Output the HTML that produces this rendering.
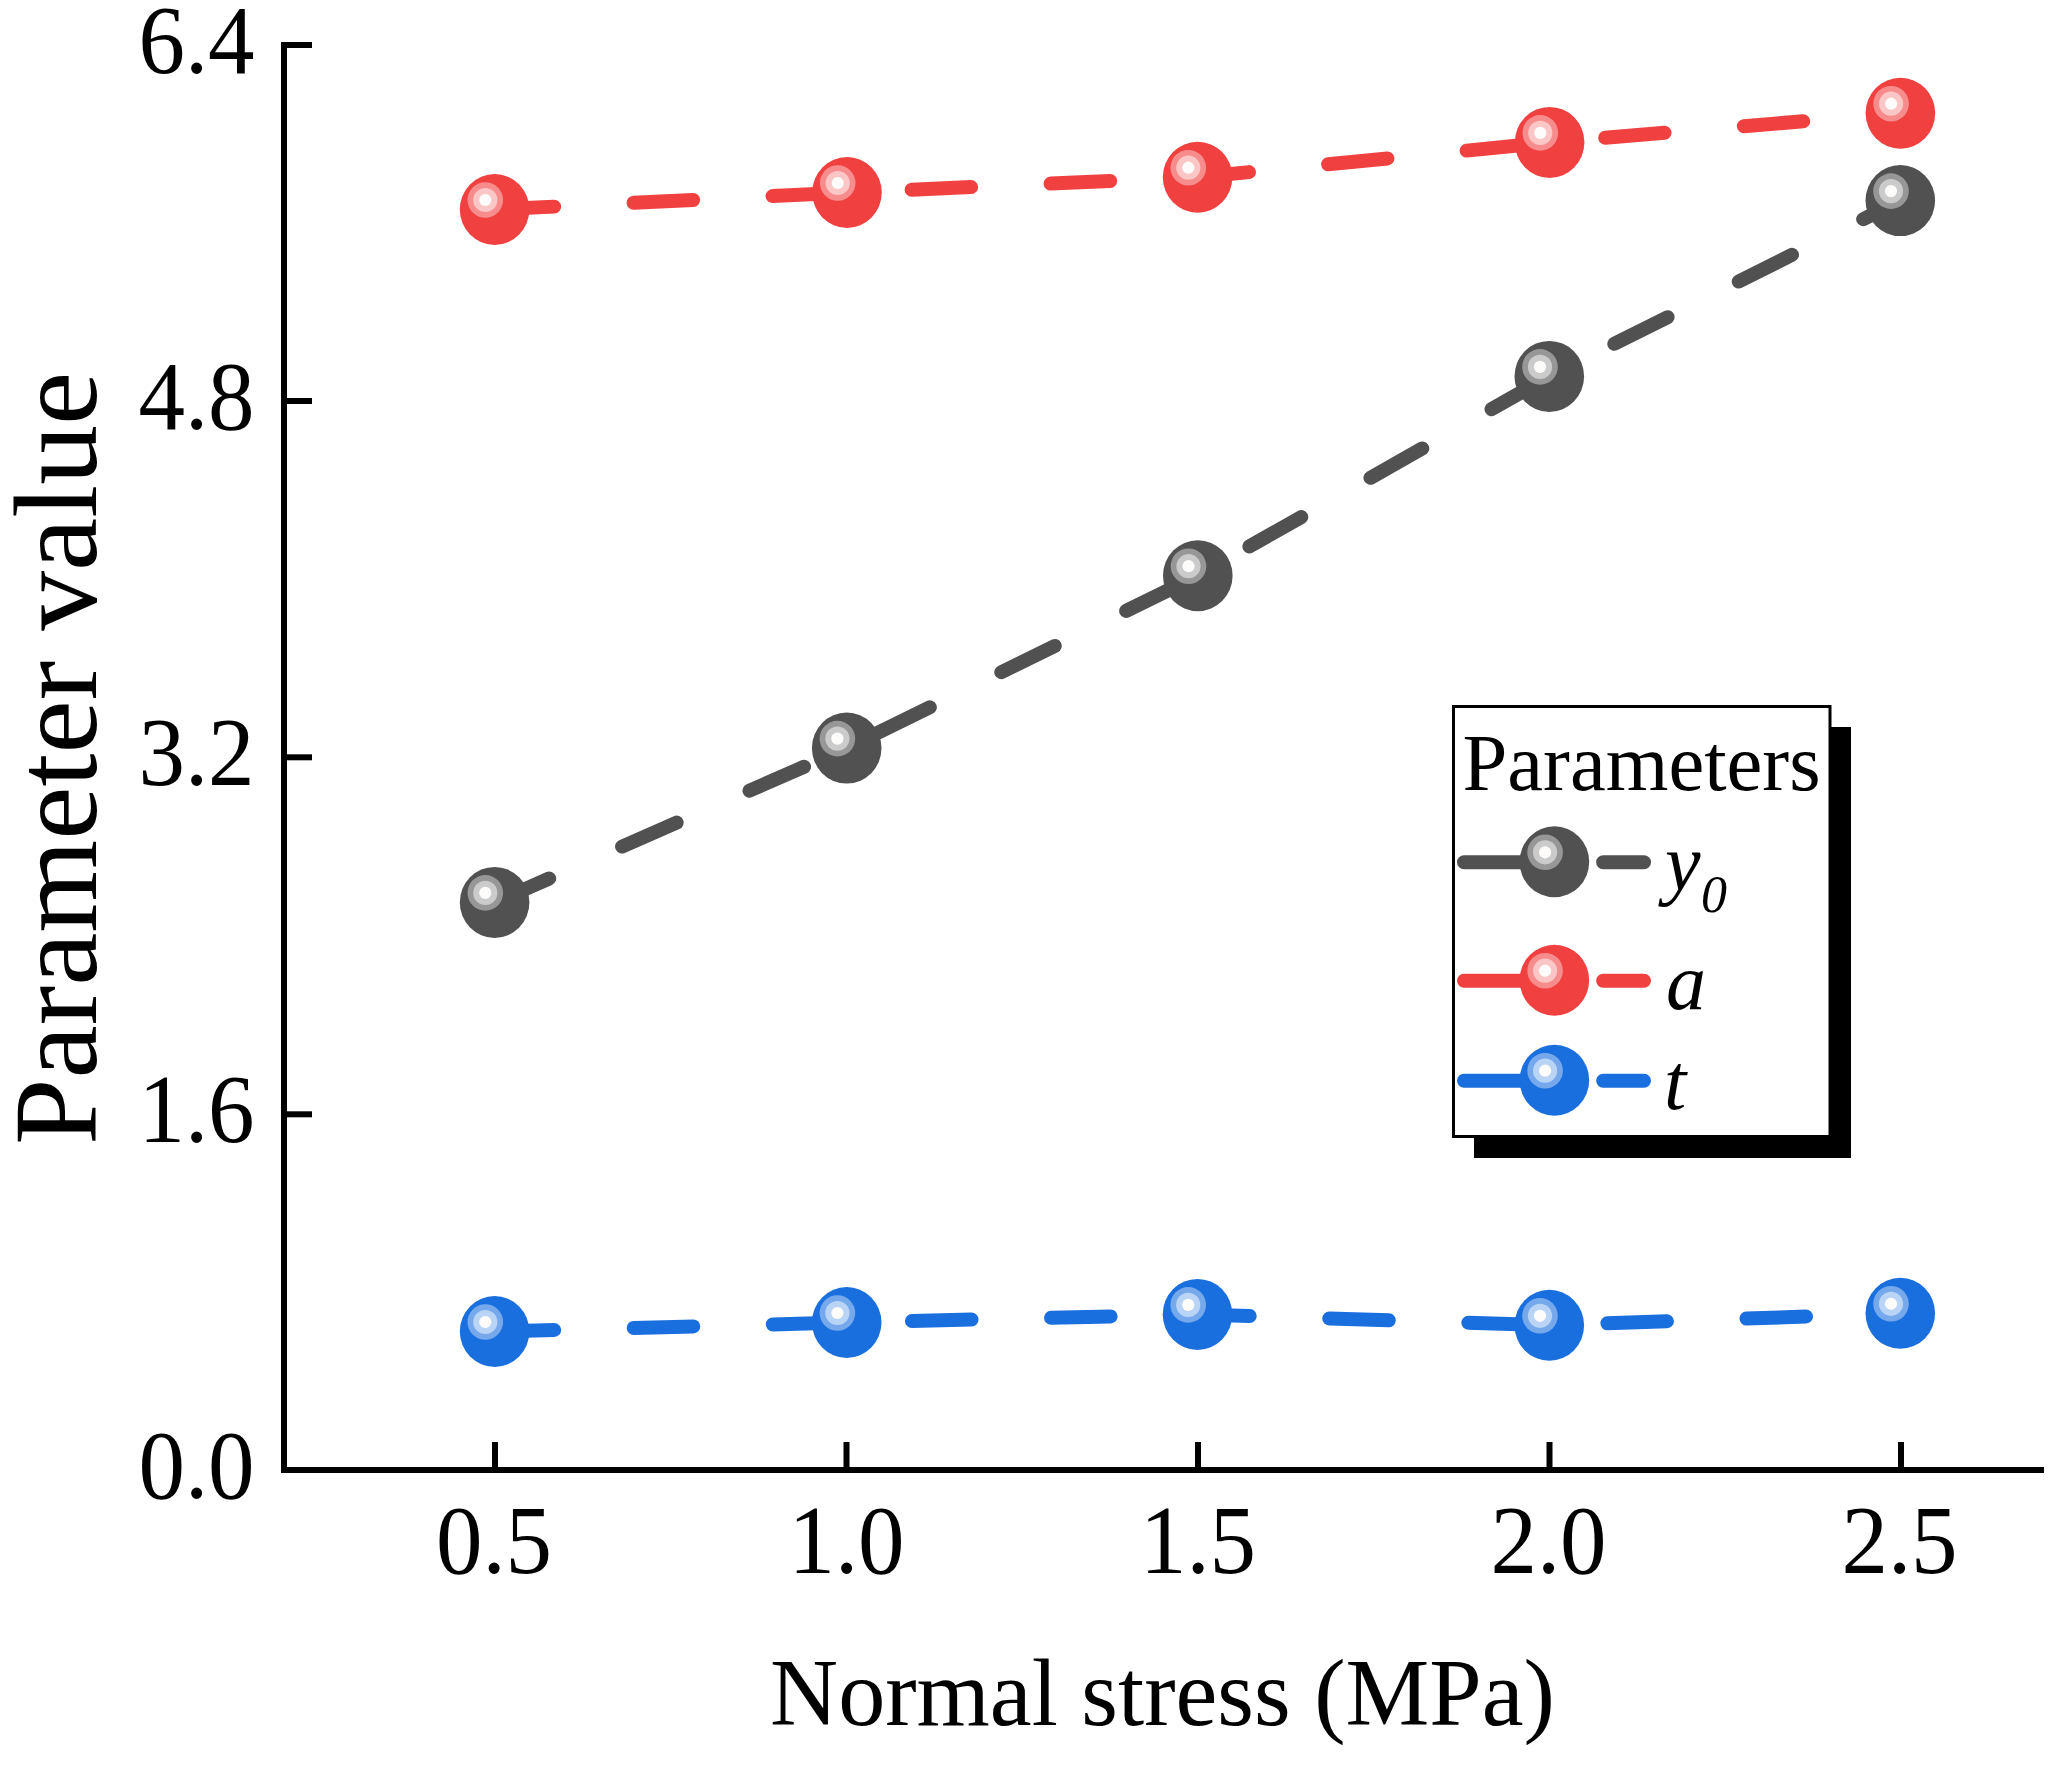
<!DOCTYPE html>
<html><head><meta charset="utf-8"><title>chart</title>
<style>
html,body{margin:0;padding:0;background:#fff;}
body{width:2051px;height:1765px;overflow:hidden;}
svg{display:block;}
text{font-family:"Liberation Serif",serif;fill:#000;}
.it{font-style:italic;}
</style></head><body>
<svg width="2051" height="1765" viewBox="0 0 2051 1765">
<rect x="0" y="0" width="2051" height="1765" fill="#fff"/>

<g fill="#000">
<rect x="281" y="42" width="6" height="1431"/>
<rect x="281" y="1467" width="1763" height="6"/>
<rect x="284" y="42.00" width="28" height="6"/>
<rect x="284" y="398.00" width="28" height="6"/>
<rect x="284" y="754.30" width="28" height="6"/>
<rect x="284" y="1111.30" width="28" height="6"/>
<rect x="492.0" y="1442" width="6" height="28"/>
<rect x="843.5" y="1442" width="6" height="28"/>
<rect x="1195.0" y="1442" width="6" height="28"/>
<rect x="1546.5" y="1442" width="6" height="28"/>
<rect x="1898.0" y="1442" width="6" height="28"/>
</g>
<g font-size="93" text-anchor="middle">
<text transform="translate(196.5,72.8) scale(1,1.036)">6.4</text>
<text transform="translate(196.5,428.8) scale(1,1.036)">4.8</text>
<text transform="translate(196.5,785.1) scale(1,1.036)">3.2</text>
<text transform="translate(196.5,1142.1) scale(1,1.036)">1.6</text>
<text transform="translate(196.5,1497.8) scale(1,1.036)">0.0</text>
<text transform="translate(494.0,1573) scale(1,1.036)">0.5</text>
<text transform="translate(846.5,1573) scale(1,1.036)">1.0</text>
<text transform="translate(1198.0,1573) scale(1,1.036)">1.5</text>
<text transform="translate(1548.5,1573) scale(1,1.036)">2.0</text>
<text transform="translate(1899.5,1573) scale(1,1.036)">2.5</text>
</g>
<text x="1162.5" y="1725" font-size="94.2" text-anchor="middle">Normal stress (MPa)</text>
<text transform="translate(96,758.5) rotate(-90)" font-size="119.5" text-anchor="middle">Parameter value</text>
<path d="M494.6 902.4 L846.7 748.1 L1197.8 575.7 L1549.3 376.4 L1900.3 200.6" fill="none" stroke="#515151" stroke-width="14" stroke-linecap="round" stroke-dasharray="59.6 79.55"/>
<ellipse cx="494.6" cy="902.4" rx="34.8" ry="35.5" fill="#515151"/><circle cx="485.3" cy="892.9" r="17.8" fill="#979797"/><circle cx="485.3" cy="892.9" r="12.1" fill="#CBCBCB"/><circle cx="485.3" cy="892.9" r="6.1" fill="#FDFCFB"/>
<ellipse cx="846.7" cy="748.1" rx="34.8" ry="35.5" fill="#515151"/><circle cx="837.4" cy="738.6" r="17.8" fill="#979797"/><circle cx="837.4" cy="738.6" r="12.1" fill="#CBCBCB"/><circle cx="837.4" cy="738.6" r="6.1" fill="#FDFCFB"/>
<ellipse cx="1197.8" cy="575.7" rx="34.8" ry="35.5" fill="#515151"/><circle cx="1188.5" cy="566.2" r="17.8" fill="#979797"/><circle cx="1188.5" cy="566.2" r="12.1" fill="#CBCBCB"/><circle cx="1188.5" cy="566.2" r="6.1" fill="#FDFCFB"/>
<ellipse cx="1549.3" cy="376.4" rx="34.8" ry="35.5" fill="#515151"/><circle cx="1540.0" cy="366.9" r="17.8" fill="#979797"/><circle cx="1540.0" cy="366.9" r="12.1" fill="#CBCBCB"/><circle cx="1540.0" cy="366.9" r="6.1" fill="#FDFCFB"/>
<ellipse cx="1900.3" cy="200.6" rx="34.8" ry="35.5" fill="#515151"/><circle cx="1891.0" cy="191.1" r="17.8" fill="#979797"/><circle cx="1891.0" cy="191.1" r="12.1" fill="#CBCBCB"/><circle cx="1891.0" cy="191.1" r="6.1" fill="#FDFCFB"/>
<path d="M494.6 209.5 L847.0 192.5 L1197.6 177.2 L1549.6 142.4 L1900.4 113.2" fill="none" stroke="#F14040" stroke-width="14" stroke-linecap="round" stroke-dasharray="59.6 79.55"/>
<ellipse cx="494.6" cy="209.5" rx="34.8" ry="35.5" fill="#F14040"/><circle cx="485.3" cy="200.0" r="17.8" fill="#F78C8C"/><circle cx="485.3" cy="200.0" r="12.1" fill="#FBC6C6"/><circle cx="485.3" cy="200.0" r="6.1" fill="#FDFCFB"/>
<ellipse cx="847.0" cy="192.5" rx="34.8" ry="35.5" fill="#F14040"/><circle cx="837.7" cy="183.0" r="17.8" fill="#F78C8C"/><circle cx="837.7" cy="183.0" r="12.1" fill="#FBC6C6"/><circle cx="837.7" cy="183.0" r="6.1" fill="#FDFCFB"/>
<ellipse cx="1197.6" cy="177.2" rx="34.8" ry="35.5" fill="#F14040"/><circle cx="1188.3" cy="167.7" r="17.8" fill="#F78C8C"/><circle cx="1188.3" cy="167.7" r="12.1" fill="#FBC6C6"/><circle cx="1188.3" cy="167.7" r="6.1" fill="#FDFCFB"/>
<ellipse cx="1549.6" cy="142.4" rx="34.8" ry="35.5" fill="#F14040"/><circle cx="1540.3" cy="132.9" r="17.8" fill="#F78C8C"/><circle cx="1540.3" cy="132.9" r="12.1" fill="#FBC6C6"/><circle cx="1540.3" cy="132.9" r="6.1" fill="#FDFCFB"/>
<ellipse cx="1900.4" cy="113.2" rx="34.8" ry="35.5" fill="#F14040"/><circle cx="1891.1" cy="103.7" r="17.8" fill="#F78C8C"/><circle cx="1891.1" cy="103.7" r="12.1" fill="#FBC6C6"/><circle cx="1891.1" cy="103.7" r="6.1" fill="#FDFCFB"/>
<path d="M494.6 1331.5 L846.7 1322.5 L1197.5 1314.4 L1549.3 1325.3 L1900.3 1313.3" fill="none" stroke="#1A6FDF" stroke-width="14" stroke-linecap="round" stroke-dasharray="59.6 79.55"/>
<ellipse cx="494.6" cy="1331.5" rx="34.8" ry="35.5" fill="#1A6FDF"/><circle cx="485.3" cy="1322.0" r="17.8" fill="#76A9EC"/><circle cx="485.3" cy="1322.0" r="12.1" fill="#BAD4F5"/><circle cx="485.3" cy="1322.0" r="6.1" fill="#FDFCFB"/>
<ellipse cx="846.7" cy="1322.5" rx="34.8" ry="35.5" fill="#1A6FDF"/><circle cx="837.4" cy="1313.0" r="17.8" fill="#76A9EC"/><circle cx="837.4" cy="1313.0" r="12.1" fill="#BAD4F5"/><circle cx="837.4" cy="1313.0" r="6.1" fill="#FDFCFB"/>
<ellipse cx="1197.5" cy="1314.4" rx="34.8" ry="35.5" fill="#1A6FDF"/><circle cx="1188.2" cy="1304.9" r="17.8" fill="#76A9EC"/><circle cx="1188.2" cy="1304.9" r="12.1" fill="#BAD4F5"/><circle cx="1188.2" cy="1304.9" r="6.1" fill="#FDFCFB"/>
<ellipse cx="1549.3" cy="1325.3" rx="34.8" ry="35.5" fill="#1A6FDF"/><circle cx="1540.0" cy="1315.8" r="17.8" fill="#76A9EC"/><circle cx="1540.0" cy="1315.8" r="12.1" fill="#BAD4F5"/><circle cx="1540.0" cy="1315.8" r="6.1" fill="#FDFCFB"/>
<ellipse cx="1900.3" cy="1313.3" rx="34.8" ry="35.5" fill="#1A6FDF"/><circle cx="1891.0" cy="1303.8" r="17.8" fill="#76A9EC"/><circle cx="1891.0" cy="1303.8" r="12.1" fill="#BAD4F5"/><circle cx="1891.0" cy="1303.8" r="6.1" fill="#FDFCFB"/>
<rect x="1474" y="727" width="377" height="431" fill="#000"/>
<rect x="1453.5" y="706.5" width="376.5" height="430" fill="#fff" stroke="#000" stroke-width="3"/>
<text x="1462.5" y="790" font-size="80.6">Parameters</text>
<path d="M1464 862.3 L1644 862.3" fill="none" stroke="#515151" stroke-width="14" stroke-linecap="round" stroke-dasharray="59.6 79.55"/>
<ellipse cx="1554.4" cy="861.8" rx="34.8" ry="35.5" fill="#515151"/><circle cx="1545.1" cy="852.3" r="17.8" fill="#979797"/><circle cx="1545.1" cy="852.3" r="12.1" fill="#CBCBCB"/><circle cx="1545.1" cy="852.3" r="6.1" fill="#FDFCFB"/>
<path d="M1464 980.7 L1644 980.7" fill="none" stroke="#F14040" stroke-width="14" stroke-linecap="round" stroke-dasharray="59.6 79.55"/>
<ellipse cx="1554.4" cy="980.2" rx="34.8" ry="35.5" fill="#F14040"/><circle cx="1545.1" cy="970.7" r="17.8" fill="#F78C8C"/><circle cx="1545.1" cy="970.7" r="12.1" fill="#FBC6C6"/><circle cx="1545.1" cy="970.7" r="6.1" fill="#FDFCFB"/>
<path d="M1464 1080.7 L1644 1080.7" fill="none" stroke="#1A6FDF" stroke-width="14" stroke-linecap="round" stroke-dasharray="59.6 79.55"/>
<ellipse cx="1554.4" cy="1080.2" rx="34.8" ry="35.5" fill="#1A6FDF"/><circle cx="1545.1" cy="1070.7" r="17.8" fill="#76A9EC"/><circle cx="1545.1" cy="1070.7" r="12.1" fill="#BAD4F5"/><circle cx="1545.1" cy="1070.7" r="6.1" fill="#FDFCFB"/>
<text class="it" x="1665" y="889.5" font-size="80">y<tspan font-size="52" dx="0.5" dy="22">0</tspan></text>
<text class="it" x="1666" y="1009" font-size="80">a</text>
<text class="it" x="1664" y="1109" font-size="80">t</text>
</svg></body></html>
